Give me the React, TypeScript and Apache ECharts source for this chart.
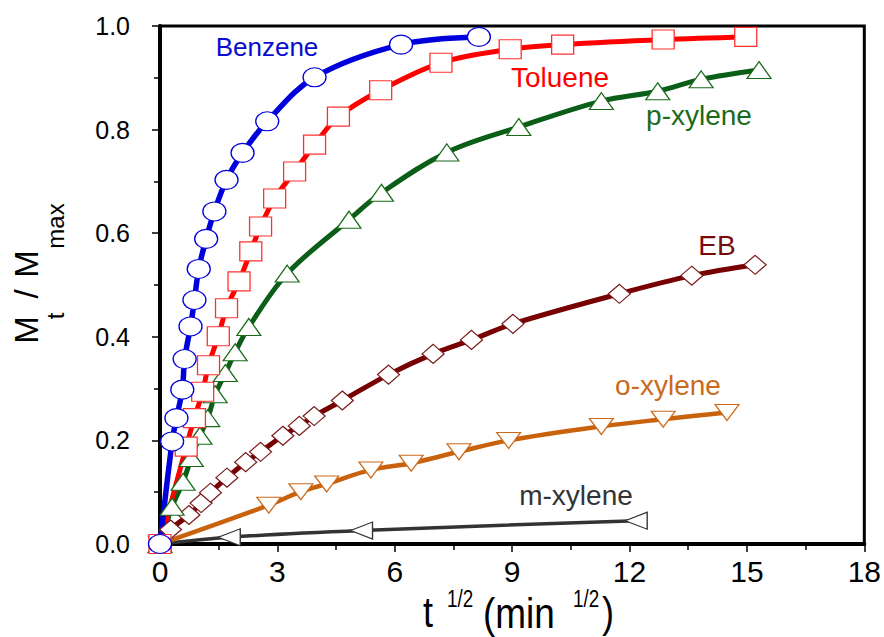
import React, { useEffect, useRef } from "react";
import * as echarts from "echarts";

// ---- data (x = t^1/2 in min^1/2, y = Mt/Mmax) ----
const benzeneX = [0, 0.31, 0.42, 0.57, 0.63, 0.78, 0.88, 0.99, 1.18, 1.39, 1.70, 2.11, 2.74, 3.95, 6.16, 8.15];
const benzeneY = [0, 0.198, 0.243, 0.298, 0.357, 0.420, 0.471, 0.531, 0.589, 0.642, 0.703, 0.755, 0.816, 0.901, 0.964, 0.979];

const tolueneX = [0, 0.67, 0.88, 1.09, 1.24, 1.49, 1.70, 2.02, 2.32, 2.57, 2.93, 3.44, 3.95, 4.56, 5.64, 7.18, 8.95, 10.29, 12.86, 14.97];
const tolueneY = [0, 0.188, 0.243, 0.294, 0.345, 0.401, 0.455, 0.507, 0.565, 0.613, 0.667, 0.719, 0.771, 0.825, 0.876, 0.929, 0.955, 0.964, 0.974, 0.979];

const pxyleneX = [0, 0.31, 0.59, 0.80, 1.02, 1.22, 1.41, 1.67, 1.92, 2.27, 3.25, 4.83, 5.66, 7.33, 9.17, 11.28, 12.72, 13.83, 15.31];
const pxyleneY = [0, 0.072, 0.120, 0.166, 0.209, 0.243, 0.289, 0.330, 0.370, 0.419, 0.522, 0.626, 0.678, 0.756, 0.805, 0.855, 0.874, 0.897, 0.915];

const ebX = [0, 0.27, 0.74, 1.05, 1.29, 1.71, 2.19, 2.57, 3.14, 3.56, 3.94, 4.66, 5.84, 6.98, 7.96, 9.02, 11.74, 13.59, 15.21];
const ebY = [0, 0.028, 0.056, 0.079, 0.099, 0.128, 0.158, 0.178, 0.209, 0.228, 0.247, 0.277, 0.327, 0.367, 0.394, 0.425, 0.483, 0.518, 0.539];

const oxyleneX = [0, 2.78, 3.60, 4.26, 5.39, 6.42, 7.64, 8.91, 11.28, 12.86, 14.49];
const oxyleneY = [0, 0.075, 0.101, 0.116, 0.143, 0.156, 0.178, 0.200, 0.227, 0.241, 0.254];

const mxyleneX = [0, 1.77, 5.15, 12.17];
const mxyleneY = [0, 0.013, 0.026, 0.045];

const seriesNames = ["Benzene", "Toluene", "p-xylene", "EB", "o-xylene", "m-xylene"];

const FONT = "'Liberation Sans', Arial, Helvetica, sans-serif";

const zip = (xs: number[], ys: number[]) => xs.map((x, i) => [x, ys[i]]);

const ELLIPSE = "path://M-10,0 A10,10 0 1,0 10,0 A10,10 0 1,0 -10,0 Z";

export default function App() {
  const ref = useRef<HTMLDivElement>(null);

  useEffect(() => {
    if (!ref.current) return;
    const chart = echarts.init(ref.current, undefined, { renderer: "svg" });

    const defs = [
      { name: seriesNames[5], data: zip(mxyleneX, mxyleneY), line: "#333333", lw: 3.5, edge: "#333333", symbol: "triangle", size: [17, 22], rot: 90 },
      { name: seriesNames[4], data: zip(oxyleneX, oxyleneY), line: "#c8620c", lw: 4.5, edge: "#cc6a1a", symbol: "triangle", size: [24, 16], rot: 180 },
      { name: seriesNames[3], data: zip(ebX, ebY), line: "#770000", lw: 5, edge: "#7a1a1a", symbol: "diamond", size: [22, 19], rot: 0 },
      { name: seriesNames[2], data: zip(pxyleneX, pxyleneY), line: "#0b5e17", lw: 5, edge: "#1a6b1a", symbol: "triangle", size: [24, 17], rot: 0 },
      { name: seriesNames[1], data: zip(tolueneX, tolueneY), line: "#ff0000", lw: 5, edge: "#ff3030", symbol: "rect", size: [22, 19], rot: 0 },
      { name: seriesNames[0], data: zip(benzeneX, benzeneY), line: "#0000dd", lw: 5.5, edge: "#0000dd", symbol: ELLIPSE, size: [23, 19], rot: 0 },
    ];

    const lineSeries = defs.map((d) => ({
      type: "line",
      name: d.name + " fit",
      data: d.data,
      smooth: 0.35,
      showSymbol: false,
      symbol: "none",
      lineStyle: { color: d.line, width: d.lw },
      z: 2,
    }));
    const markerSeries = defs.map((d) => ({
      type: "scatter",
      name: d.name,
      data: d.data,
      symbol: d.symbol,
      symbolSize: d.size,
      symbolRotate: d.rot,
      clip: false,
      itemStyle: { color: "#ffffff", borderColor: d.edge, borderWidth: 1.2, opacity: 1 },
      z: 3,
    }));

    const label = (text: string, x: number, y: number, color: string, fontSize: number) => ({
      type: "text",
      x,
      y,
      z: 10,
      style: {
        text,
        fill: color,
        fontSize,
        fontFamily: FONT,
        align: "center",
        verticalAlign: "middle",
        textAlign: "center",
        textVerticalAlign: "middle",
      },
    });

    const piece = (text: string, x: number, y: number, fontSize: number, extra: any = {}) => ({
      type: "text",
      x,
      y,
      z: 10,
      ...extra,
      style: {
        text,
        fill: "#000",
        fontSize,
        fontFamily: FONT,
        align: extra.align || "center",
        verticalAlign: "middle",
        textAlign: extra.align || "center",
        textVerticalAlign: "middle",
      },
    });

    const option: any = {
      animation: false,
      backgroundColor: "#ffffff",
      grid: {
        left: 160,
        right: 11,
        top: 26,
        bottom: 93,
        show: true,
        borderColor: "#000",
        borderWidth: 3,
        backgroundColor: "transparent",
      },
      xAxis: {
        type: "value",
        min: 0,
        max: 18,
        interval: 3,
        axisLine: { show: true, onZero: false, lineStyle: { color: "#000", width: 4 } },
        axisTick: { show: true, inside: false, length: 8, lineStyle: { color: "#000", width: 1.5 } },
        minorTick: { show: true, splitNumber: 2, length: 6, lineStyle: { color: "#000", width: 1.5 } },
        splitLine: { show: false },
        axisLabel: { color: "#000", fontSize: 30, fontFamily: FONT, margin: 12 },
      },
      yAxis: {
        type: "value",
        min: 0,
        max: 1,
        interval: 0.2,
        axisLine: { show: true, onZero: false, lineStyle: { color: "#000", width: 4 } },
        axisTick: { show: true, inside: false, length: 8, lineStyle: { color: "#000", width: 1.5 } },
        minorTick: { show: true, splitNumber: 2, length: 6, lineStyle: { color: "#000", width: 1.5 } },
        splitLine: { show: false },
        axisLabel: {
          color: "#000",
          fontSize: 25,
          fontFamily: FONT,
          margin: 30,
          formatter: (v: number) => v.toFixed(1),
        },
      },
      series: [...lineSeries, ...markerSeries],
      graphic: [
        label("Benzene", 267, 47, "#0a0ad0", 26),
        label("Toluene", 560, 77, "#ff0000", 28),
        label("p-xylene", 699, 115, "#1a6b1a", 28),
        label("EB", 717, 245, "#7a0a0a", 28),
        label("o-xylene", 668, 385, "#cc6a1a", 28),
        label("m-xylene", 576, 495, "#333333", 28),
        // y-axis title (rotated)
        piece("M", 26.5, 330, 33, { rotation: Math.PI / 2 }),
        piece("t", 55, 316, 24, { rotation: Math.PI / 2 }),
        piece("/", 26.5, 294, 33, { rotation: Math.PI / 2 }),
        piece("M", 26.5, 264, 33, { rotation: Math.PI / 2 }),
        piece("max", 55, 226, 24, { rotation: Math.PI / 2 }),
        // x-axis title
        piece("t", 423, 613, 42, { align: "left", scaleX: 0.86 }),
        piece("1/2", 447, 599, 23, { align: "left", scaleX: 0.82 }),
        piece("(min", 483, 613, 42, { align: "left", scaleX: 0.88 }),
        piece("1/2", 573, 599, 23, { align: "left", scaleX: 0.82 }),
        piece(")", 602, 613, 42, { align: "left", scaleX: 0.86 }),
      ],
    };

    chart.setOption(option);
    return () => chart.dispose();
  }, []);

  return (
    <div
      ref={ref}
      style={{ position: "absolute", left: 0, top: 0, width: 884, height: 637, background: "#fff" }}
    />
  );
}
